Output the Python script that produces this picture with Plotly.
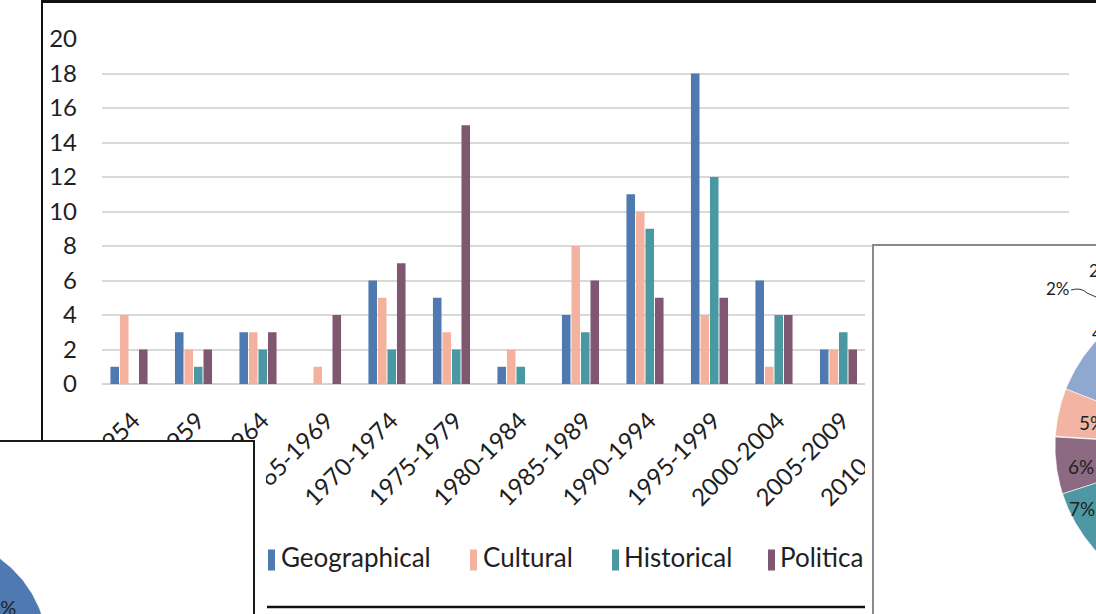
import numpy as np
import plotly.graph_objects as go

W, H = 1096, 614
FONT = "Lato, Carlito, Calibri, 'Open Sans', sans-serif"
INK = "#1f1f1f"

# ---------------- data ----------------
periods = ["1950-1954", "1955-1959", "1960-1964", "1965-1969", "1970-1974",
           "1975-1979", "1980-1984", "1985-1989", "1990-1994", "1995-1999",
           "2000-2004", "2005-2009", "2010-2014"]
geographical = [1, 3, 3, 0, 6, 5, 1, 4, 11, 18, 6, 2, None]
cultural = [4, 2, 3, 1, 5, 3, 2, 8, 10, 4, 1, 2, None]
historical = [0, 1, 2, 0, 2, 2, 1, 3, 9, 12, 4, 3, None]
political = [2, 2, 3, 4, 7, 15, 0, 6, 5, 5, 4, 2, None]
series_names = ["Geographical", "Cultural", "Historical", "Political"]
series_colors = ["#4E79B1", "#F4B29E", "#4A98A2", "#7F5771"]
y_ticks = [0, 2, 4, 6, 8, 10, 12, 14, 16, 18, 20]

# partially visible pie (right box), slices counter-clockwise from 12 o'clock
right_pie_values = [2, 2, 4, 11, 5, 6, 7, 20]
right_pie_colors = ["#6E8FC0", "#E9A58F", "#9DB3D6", "#8EA8CF",
                    "#F2B5A3", "#8B6A82", "#4E98A3", "#4A73B2"]
right_pie_labels = ["2%", "2%", "4%", "", "5%", "6%", "7%", ""]
# partially visible pie (left box), slices clockwise from 12 o'clock
left_pie_values = [30]
left_pie_colors = ["#4E79B1"]
left_pie_labels = ["30%"]

series = [geographical, cultural, historical, political]

fig = go.Figure()

# ---------------- main bar chart ----------------
for name, vals, col in zip(series_names, series, series_colors):
    fig.add_trace(go.Bar(x=periods, y=vals, name=name, marker_color=col,
                         marker_line_width=0, showlegend=False,
                         xaxis="x", yaxis="y"))

# ---------------- custom legend (drawn in its own pixel-space subplot) ----------------
leg_marker_x = [271.5, 473.5, 615.5, 771.5]
leg_text_x = [281, 483, 624, 780]
leg_y = 560
fig.add_trace(go.Scatter(
    x=leg_text_x, y=[leg_y] * 4, mode="text", text=series_names,
    textposition="middle right", xaxis="x2", yaxis="y2",
    textfont=dict(family=FONT, size=26, color=INK),
    showlegend=False, hoverinfo="skip"))
fig.add_trace(go.Scatter(
    x=leg_marker_x, y=[leg_y] * 4, mode="markers", xaxis="x2", yaxis="y2",
    marker=dict(symbol="line-ns", size=15, color=series_colors,
                line=dict(width=7, color=series_colors)),
    showlegend=False, hoverinfo="skip"))


# ---------------- pies (pixel-space subplot on top) ----------------
def wedge(cx, cy, r, a0, a1, ccw):
    t = np.radians(np.linspace(a0, a1, 80))
    sx = -1 if ccw else 1
    xs = cx + sx * r * np.sin(t)
    ys = cy - r * np.cos(t)
    return np.r_[cx, xs, cx], np.r_[cy, ys, cy]


def add_pie(values, colors, cx, cy, r, ccw):
    cum = np.cumsum([0] + list(values)) * 3.6
    for i, col in enumerate(colors):
        xs, ys = wedge(cx, cy, r, cum[i], cum[i + 1], ccw)
        fig.add_trace(go.Scatter(x=xs, y=ys, mode="lines", fill="toself",
                                 fillcolor=col, line=dict(width=0.6, color="white"),
                                 xaxis="x3", yaxis="y3", showlegend=False,
                                 hoverinfo="skip"))


add_pie(right_pie_values, right_pie_colors, 1210, 446, 155, ccw=True)
add_pie(left_pie_values, left_pie_colors, -67, 652, 115, ccw=False)

# ---------------- shapes: frames and boxes (pixel space x3/y3) ----------------
shapes = [
    dict(type="line", x0=42, y0=1.5, x1=W + 5, y1=1.5, line=dict(color="#111", width=3)),
    dict(type="line", x0=42, y0=0, x1=42, y1=442, line=dict(color="#111", width=2)),
    dict(type="line", x0=267, y0=607, x1=865, y1=607, line=dict(color="#111", width=2.5)),
    # white margins around the overlapping boxes
    dict(type="rect", x0=-10, y0=442, x1=266, y1=640, fillcolor="white", line=dict(width=0)),
    dict(type="rect", x0=865, y0=247, x1=W + 20, y1=640, fillcolor="white", line=dict(width=0)),
    dict(type="rect", x0=-10, y0=441, x1=254, y1=640, fillcolor="white",
         line=dict(color="#1a1a1a", width=2)),
    dict(type="rect", x0=873, y0=245, x1=W + 20, y1=640, fillcolor="white",
         line=dict(color="#8a8a8a", width=2)),
]
for s in shapes:
    s.update(xref="x3", yref="y3", layer="below")
shapes.append(dict(type="path", path="M 1071 290 Q 1081 287 1087 293 L 1096 297",
                   xref="x3", yref="y3", layer="above",
                   line=dict(color="#333", width=1)))

# labels for the partial pies (px positions)
pie_label_pos = [(1044, 288, "left", 17), (1087, 270, "left", 17), (1090, 333, "left", 17),
                 None, (1077, 422, "left", 19), (1066, 466, "left", 19),
                 (1067, 508, "left", 19), None]
annotations = []
for lab, pos in zip(right_pie_labels, pie_label_pos):
    if pos is None or not lab:
        continue
    x, y, anc, fs = pos
    annotations.append(dict(x=x, y=y, xref="x3", yref="y3", text=lab, showarrow=False,
                            xanchor=anc, yanchor="middle",
                            font=dict(family=FONT, size=fs, color=INK)))
annotations.append(dict(x=18, y=607, xref="x3", yref="y3", text=left_pie_labels[0],
                        showarrow=False, xanchor="right", yanchor="middle",
                        font=dict(family=FONT, size=20, color=INK)))

pix_axis = dict(range=[0, W], visible=False, domain=[0, 1], fixedrange=True,
                automargin=False)
pix_yaxis = dict(range=[H, 0], visible=False, domain=[0, 1], fixedrange=True,
                 automargin=False)

fig.update_layout(
    template="none",
    width=W, height=H,
    margin=dict(l=0, r=0, t=0, b=0, autoexpand=False),
    paper_bgcolor="white", plot_bgcolor="rgba(0,0,0,0)",
    barmode="group", bargap=0.41, bargroupgap=0.1,
    font=dict(family=FONT, color=INK),
    xaxis=dict(domain=[102 / W, 1069 / W], range=[-0.4186, 14.574], type="category",
               categoryorder="array", categoryarray=periods, automargin=False,
               tickangle=-45, tickfont=dict(family=FONT, size=24, color=INK),
               ticklabelstandoff=17, ticklabelshift=4,
               showgrid=False, showline=False, ticks="", zeroline=False, anchor="y"),
    yaxis=dict(domain=[(H - 384) / H, (H - 39) / H], range=[0, 20], tickvals=y_ticks,
               showgrid=True, gridcolor="#D9D9D9", gridwidth=2, automargin=False,
               zeroline=True, zerolinecolor="#D4D4D4", zerolinewidth=2,
               showline=False, ticks="", ticklabelstandoff=24,
               tickfont=dict(family=FONT, size=24, color=INK), anchor="x"),
    xaxis2=dict(pix_axis, anchor="y2"),
    yaxis2=dict(pix_yaxis, anchor="x2"),
    xaxis3=dict(pix_axis, anchor="y3"),
    yaxis3=dict(pix_yaxis, anchor="x3"),
    shapes=shapes,
    annotations=annotations,
    showlegend=False,
)

fig.write_html("out.html")
